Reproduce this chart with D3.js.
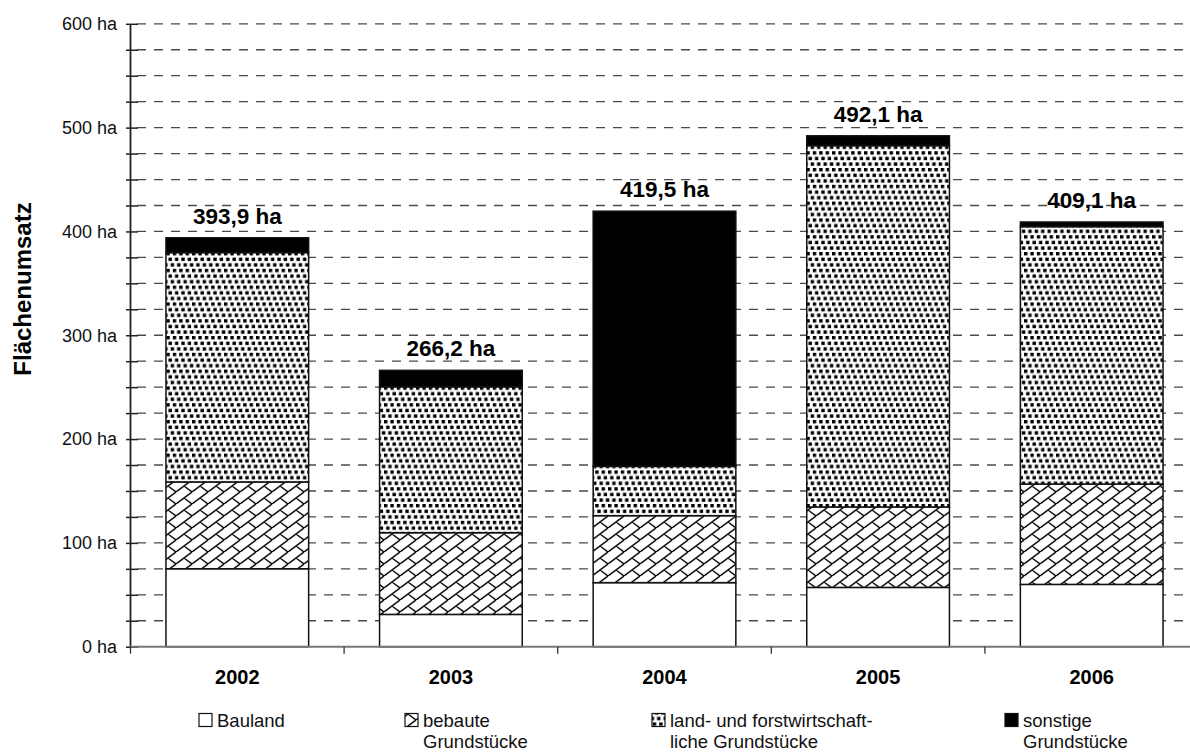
<!DOCTYPE html>
<html>
<head>
<meta charset="utf-8">
<script src="https://cdn.jsdelivr.net/npm/d3@7"></script>
<style>
  html, body { margin: 0; padding: 0; background: #fff; }
  svg { display: block; font-family: "Liberation Sans", Arial, Helvetica, sans-serif; }
</style>
</head>
<body>
<script>
// Flächenumsatz nach Teilmärkten, 2002–2006 (in ha)
const years = ["2002", "2003", "2004", "2005", "2006"];
const bauland = [75.1, 31.1, 61.7, 57.1, 60.0];
const bebaute = [83.6, 78.7, 64.5, 77.5, 96.7];
const landForst = [220.9, 140.5, 47.5, 348.0, 247.9];
const sonstige = [14.3, 15.9, 245.8, 9.5, 4.5];

const seriesKeys = ["bauland", "bebaute", "landForst", "sonstige"];
const seriesValues = { bauland, bebaute, landForst, sonstige };
const legendLines = [["Bauland"], ["bebaute", "Grundstücke"], ["land- und forstwirtschaft-", "liche Grundstücke"], ["sonstige", "Grundstücke"]];

const yMajorTicks = [0, 100, 200, 300, 400, 500, 600];
const yMinorStep = 25;
const yTitle = "Flächenumsatz";

const W = 1190, H = 753;
const svg = d3.select("body").append("svg").attr("width", W).attr("height", H);

// Fill patterns for the stacked segments
const defs = svg.append("defs");
{
  // diagonal brick
  const w = 16, h = 12;
  const p = defs.append("pattern").attr("id", "brick")
    .attr("patternUnits", "userSpaceOnUse").attr("width", w).attr("height", h);
  p.append("rect").attr("width", w).attr("height", h).attr("fill", "#fff");
  const d = [
    `M${-w},${h} L0,0`, `M0,${h} L${w},0`, `M${w},${h} L${2 * w},0`,
    `M${w / 2},${h / 2} L${w},${h}`, `M${-w / 2},${h / 2} L0,${h}`,
    `M${w / 2},${-h / 2} L${w},0`, `M${-w / 2},${-h / 2} L0,0`
  ].join(" ");
  p.append("path").attr("d", d).attr("stroke", "#111").attr("stroke-width", 1.5).attr("fill", "none");
}
{
  // staggered square dots
  const w = 6.4, rh = 5.6, s = 3.4;
  const p = defs.append("pattern").attr("id", "dots")
    .attr("patternUnits", "userSpaceOnUse").attr("width", w).attr("height", rh * 3);
  p.append("rect").attr("width", w).attr("height", rh * 3).attr("fill", "#fff");
  [0, 1, 2].forEach(r => {
    const x0 = r * w / 3;
    [x0, x0 - w].forEach(x => {
      p.append("rect").attr("x", x).attr("y", r * rh).attr("width", s).attr("height", s).attr("fill", "#000");
    });
  });
}
const fills = { bauland: "#fff", bebaute: "url(#brick)", landForst: "url(#dots)", sonstige: "#000" };

// Scales
const x = d3.scaleBand().domain(years).range([130.5, 1198.5]).paddingInner(0.332).paddingOuter(0.166);
const y = d3.scaleLinear().domain([0, 600]).range([646.7, 23.8]);

// Dashed gridlines every 25 ha
const gridVals = d3.range(yMinorStep, 600 + 0.1, yMinorStep);
svg.append("g").selectAll("line").data(gridVals).join("line")
  .attr("x1", 137).attr("x2", W)
  .attr("y1", d => y(d)).attr("y2", d => y(d))
  .attr("stroke", "#4a4a4a").attr("stroke-width", 1.3).attr("stroke-dasharray", "9,8");

// Stacked bars
const table = years.map((yr, i) => {
  const o = { year: yr };
  seriesKeys.forEach(k => o[k] = seriesValues[k][i]);
  return o;
});
const stack = d3.stack().keys(seriesKeys)(table);
const gBars = svg.append("g");
stack.forEach(layer => {
  gBars.append("g").selectAll("rect").data(layer).join("rect")
    .attr("x", d => x(d.data.year))
    .attr("width", x.bandwidth())
    .attr("y", d => y(d[1]))
    .attr("height", d => y(d[0]) - y(d[1]))
    .attr("fill", fills[layer.key])
    .attr("stroke", "#111").attr("stroke-width", 1.5);
});

// Totals above bars
const fmt = v => v.toFixed(1).replace(".", ",") + " ha";
svg.append("g").selectAll("text").data(table).join("text")
  .attr("x", d => x(d.year) + x.bandwidth() / 2)
  .attr("y", d => y(seriesKeys.reduce((s, k) => s + d[k], 0)) - 14)
  .attr("text-anchor", "middle")
  .attr("font-size", 22.5).attr("font-weight", "bold").attr("fill", "#000")
  .text(d => fmt(seriesKeys.reduce((s, k) => s + d[k], 0)));

// Y axis with major and minor ticks
const yAxis = svg.append("g").attr("transform", "translate(130,0)")
  .call(d3.axisLeft(y).tickValues(d3.range(0, 600 + 0.1, yMinorStep))
    .tickSize(0).tickFormat(d => yMajorTicks.includes(d) ? d + " ha" : ""));
yAxis.select(".domain").attr("stroke", "#222").attr("stroke-width", 1.8);
yAxis.selectAll(".tick line").attr("x1", -4).attr("x2", 8).attr("stroke", "#222").attr("stroke-width", 1.5);
yAxis.selectAll(".tick text").attr("x", -13).attr("font-size", 18).attr("fill", "#111")
  .attr("font-family", "Liberation Sans, Arial, sans-serif");

// X axis
const xAxis = svg.append("g").attr("transform", `translate(0,${y(0)})`)
  .call(d3.axisBottom(x).tickSize(0).tickFormat(""));
xAxis.select(".domain").attr("stroke", "#777").attr("stroke-width", 2).attr("d", `M130,0H${W}`);
const xEdges = d3.range(0, years.length + 1).map(i => x.range()[0] + i * x.step());
svg.append("g").selectAll("line").data(xEdges).join("line")
  .attr("x1", d => d).attr("x2", d => d)
  .attr("y1", y(0)).attr("y2", y(0) + 7)
  .attr("stroke", "#333").attr("stroke-width", 1.3);
svg.append("g").selectAll("text").data(years).join("text")
  .attr("x", d => x(d) + x.bandwidth() / 2).attr("y", 684)
  .attr("text-anchor", "middle").attr("font-size", 20).attr("font-weight", "bold").attr("fill", "#000")
  .text(d => d);

// Y axis title
svg.append("text")
  .attr("transform", "translate(31,289) rotate(-90)")
  .attr("text-anchor", "middle").attr("font-size", 24).attr("font-weight", "bold").attr("fill", "#000")
  .text(yTitle);

// Legend
const legendX = [199, 405, 652, 1005];
const legend = svg.append("g");
seriesKeys.forEach((k, i) => {
  legend.append("rect").attr("x", legendX[i]).attr("y", 713.5).attr("width", 13).attr("height", 13)
    .attr("fill", fills[k]).attr("stroke", "#111").attr("stroke-width", 1.2);
  legendLines[i].forEach((ln, j) => {
    legend.append("text").attr("x", legendX[i] + 18).attr("y", 726.5 + j * 21)
      .attr("font-size", 18.5).attr("fill", "#111").text(ln);
  });
});
</script>
</body>
</html>
